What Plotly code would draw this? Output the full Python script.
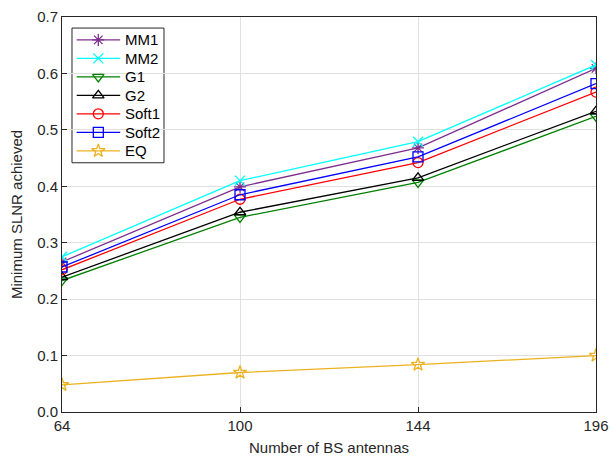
import plotly.graph_objects as go

antennas = ["64", "100", "144", "196"]
mm1 = [0.266, 0.399, 0.468, 0.609]
mm2 = [0.275, 0.410, 0.479, 0.615]
g1 = [0.233, 0.345, 0.407, 0.524]
g2 = [0.239, 0.354, 0.415, 0.533]
soft1 = [0.252, 0.377, 0.442, 0.567]
soft2 = [0.257, 0.385, 0.452, 0.582]
eq = [0.048, 0.070, 0.084, 0.100]

series = [
    ("MM1", mm1, "#7E2F8E", "asterisk-open"),
    ("MM2", mm2, "#00FFFF", "x-thin-open"),
    ("G1", g1, "#008000", "triangle-down-open"),
    ("G2", g2, "#000000", "triangle-up-open"),
    ("Soft1", soft1, "#FF0000", "circle-open"),
    ("Soft2", soft2, "#0000FF", "square-open"),
    ("EQ", eq, "#EDB120", "star-open"),
]

fig = go.Figure()
for name, vals, color, sym in series:
    fig.add_trace(go.Scatter(
        x=antennas, y=vals, name=name, mode="lines+markers", showlegend=False,
        line=dict(color=color, width=1.3),
        marker=dict(symbol=sym, size=10, color=color, line=dict(color=color, width=1.3)),
    ))

# custom legend (MATLAB-style compact box) in paper/overlay coordinates
leg_x0, leg_x1 = 0.0187, 0.191
leg_top, leg_bot = 0.972, 0.631
line_x0, line_x1, mark_x, text_x = 0.0275, 0.109, 0.068, 0.114
item_y0, item_step = 0.942, 0.0468

shapes = [dict(type="rect", xref="paper", yref="paper", x0=leg_x0, x1=leg_x1,
               y0=leg_bot, y1=leg_top, line=dict(color="#262626", width=1),
               fillcolor="white", layer="between")]
annotations = []
for i, (name, vals, color, sym) in enumerate(series):
    yy = item_y0 - i * item_step
    shapes.append(dict(type="line", xref="paper", yref="paper", x0=line_x0, x1=line_x1,
                       y0=yy, y1=yy, line=dict(color=color, width=1.3), layer="between"))
    annotations.append(dict(x=text_x, y=yy, xref="paper", yref="paper", text=name,
                            showarrow=False, xanchor="left", yanchor="middle",
                            font=dict(size=15, color="#000000")))
    fig.add_trace(go.Scatter(
        x=[mark_x], y=[yy], xaxis="x2", yaxis="y2", mode="markers", showlegend=False,
        hoverinfo="skip",
        marker=dict(symbol=sym, size=10, color=color, line=dict(color=color, width=1.3)),
    ))

axis_common = dict(
    showline=True, linecolor="#262626", linewidth=1, mirror=True,
    ticks="inside", ticklen=5, tickcolor="#262626",
    showgrid=True, gridcolor="#E0E0E0", gridwidth=1, zeroline=False,
    tickfont=dict(size=15, color="#262626"), automargin=False,
)

fig.update_layout(
    width=610, height=458,
    margin=dict(l=62, r=14, t=17, b=46),
    paper_bgcolor="white", plot_bgcolor="white",
    font=dict(family="Liberation Sans, Arial, sans-serif", size=15, color="#262626"),
    showlegend=False,
    shapes=shapes,
    annotations=annotations,
    xaxis=dict(
        title=dict(text="Number of BS antennas", font=dict(size=15), standoff=9),
        range=[0, 3], type="category", **axis_common,
    ),
    yaxis=dict(
        title=dict(text="Minimum SLNR achieved", font=dict(size=15), standoff=10),
        range=[0, 0.7], dtick=0.1, tickformat=".1f", **axis_common,
    ),
    xaxis2=dict(overlaying="x", range=[0, 1], visible=False, anchor="y2"),
    yaxis2=dict(overlaying="y", range=[0, 1], visible=False, anchor="x2"),
)

fig.write_html("out.html")
